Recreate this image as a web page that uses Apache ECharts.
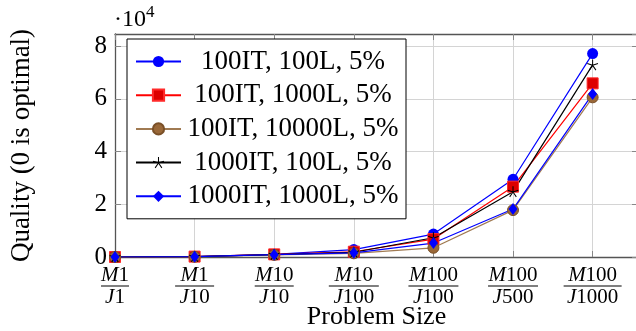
<!DOCTYPE html>
<html>
<head>
<meta charset="utf-8">
<script src="https://cdn.jsdelivr.net/npm/echarts@6/dist/echarts.min.js"></script>
<style>
  html, body { margin: 0; padding: 0; background: #fff; }
  #chart { width: 636px; height: 331px; }
</style>
</head>
<body>
<div id="chart"></div>
<script>
// Problem sizes: machines (numerator) over jobs (denominator)
const numerators   = ['M1', 'M1', 'M10', 'M10', 'M100', 'M100', 'M100'];
const denominators = ['J1', 'J10', 'J10', 'J100', 'J100', 'J500', 'J1000'];

// Quality per configuration (0 is optimal)
const q100it100l    = [0, 150, 1000, 2800, 8700, 29500, 77200];
const q100it1000l   = [0, 150, 1000, 2000, 6800, 26700, 65900];
const q100it10000l  = [0, 100, 800, 1400, 3500, 17800, 60600];
const q1000it100l   = [0, 150, 900, 1800, 7300, 24800, 72900];
const q1000it1000l  = [0, 120, 900, 1600, 5300, 18200, 61900];

const seriesNames = [
  '100IT, 100L, 5%',
  '100IT, 1000L, 5%',
  '100IT, 10000L, 5%',
  '1000IT, 100L, 5%',
  '1000IT, 1000L, 5%'
];

const yTicks = [0, 20000, 40000, 60000, 80000];

// five-spoke asterisk marker
function starPath() {
  const r = 5, t = 0.45;
  let d = '';
  for (let k = 0; k < 5; k++) {
    const a = (k * 72) * Math.PI / 180;
    const c = Math.cos(a), s = Math.sin(a);
    const pts = [[-t, 0], [-t, -r], [t, -r], [t, 0]].map(([x, y]) => [x * c - y * s, x * s + y * c]);
    d += 'M' + pts.map(p => p[0].toFixed(3) + ',' + p[1].toFixed(3)).join('L') + 'Z';
  }
  return 'path://' + d;
}

const serif = 'Liberation Serif';

function fracLabel(v) {
  if (Math.abs(v - Math.round(v)) > 1e-6) return '';
  const i = Math.round(v);
  if (i < 0 || i >= numerators.length) return '';
  const num = numerators[i], den = denominators[i];
  const split = s => '{i|' + s[0] + '}{n|' + s.slice(1) + '}';
  const len = Math.max(num.length, den.length);
  return split(num) + '\n{b' + len + '| }\n' + split(den);
}

const pts = vals => vals.map((v, i) => [i, v]);

const chart = echarts.init(document.getElementById('chart'), null, { renderer: 'canvas' });

const axisLineStyle = { color: '#555', width: 1.3 };
const tickStyle = { color: '#888', width: 1 };
const gridLine = { lineStyle: { color: '#d4d4d4', width: 1 } };

const option = {
  animation: false,
  backgroundColor: '#fff',
  textStyle: { fontFamily: serif },
  grid: { left: 115, top: 34, width: 523, height: 223, containLabel: false, outerBoundsMode: 'none' },
  graphic: [{
    type: 'text',
    left: 114,
    top: 4,
    style: {
      text: '{d|·10}{s|4}',
      rich: {
        d: { fontFamily: serif, fontSize: 24, fill: '#000', verticalAlign: 'bottom', lineHeight: 28 },
        s: { fontFamily: serif, fontSize: 17, fill: '#000', verticalAlign: 'top', padding: [0, 0, 10, 0] }
      }
    }
  }],
  xAxis: [{
    type: 'value',
    min: 0,
    max: 6.57,
    interval: 1,
    name: 'Problem Size',
    nameLocation: 'middle',
    nameGap: 47,
    nameMoveOverlap: false,
    nameTextStyle: { fontFamily: serif, fontSize: 26, color: '#000' },
    axisLine: { show: true, onZero: false, lineStyle: axisLineStyle },
    axisTick: { show: true, inside: true, length: 6, lineStyle: tickStyle },
    splitLine: { show: true, ...gridLine },
    axisLabel: {
      show: true,
      margin: 9,
      showMaxLabel: false,
      formatter: fracLabel,
      color: '#000',
      rich: {
        i: { fontFamily: serif, fontStyle: 'italic', fontSize: 21, lineHeight: 18, color: '#000' },
        n: { fontFamily: serif, fontSize: 21, lineHeight: 18, color: '#000' },
        b2: { width: 28, height: 1, lineHeight: 4, backgroundColor: '#000' },
        b3: { width: 39, height: 1, lineHeight: 4, backgroundColor: '#000' },
        b4: { width: 50, height: 1, lineHeight: 4, backgroundColor: '#000' },
        b5: { width: 58, height: 1, lineHeight: 4, backgroundColor: '#000' }
      }
    }
  }, {
    type: 'value',
    position: 'top',
    min: 0,
    max: 6.57,
    interval: 1,
    axisLine: { show: true, onZero: false, lineStyle: axisLineStyle },
    axisTick: { show: true, inside: true, length: 6, lineStyle: tickStyle },
    splitLine: { show: false },
    axisLabel: { show: false }
  }],
  yAxis: [{
    type: 'value',
    min: 0,
    max: 84630,
    interval: 20000,
    name: 'Quality (0 is optimal)',
    nameLocation: 'middle',
    nameGap: 80,
    nameMoveOverlap: false,
    nameTextStyle: { fontFamily: serif, fontSize: 27, color: '#000' },
    axisLine: { show: true, onZero: false, lineStyle: axisLineStyle },
    axisTick: { show: true, inside: true, length: 6, lineStyle: tickStyle },
    splitLine: { show: true, ...gridLine },
    axisLabel: {
      showMaxLabel: false,
      margin: 8,
      fontFamily: serif,
      fontSize: 25,
      color: '#000',
      formatter: v => (yTicks.indexOf(v) >= 0 ? String(v / 10000) : '')
    }
  }, {
    type: 'value',
    position: 'right',
    min: 0,
    max: 84630,
    interval: 20000,
    axisLine: { show: true, onZero: false, lineStyle: axisLineStyle },
    axisTick: { show: true, inside: true, length: 6, lineStyle: tickStyle },
    splitLine: { show: false },
    axisLabel: { show: false }
  }],
  legend: {
    orient: 'vertical',
    left: 127,
    top: 39,
    padding: [9, 6, 9, 8],
    itemGap: 6.7,
    itemWidth: 45,
    itemHeight: 14,
    backgroundColor: '#fff',
    borderColor: '#000',
    borderWidth: 1,
    borderRadius: 0,
    data: seriesNames,
    formatter: name => '{t|' + name + '}',
    textStyle: {
      fontFamily: serif,
      fontSize: 27,
      color: '#000',
      rich: { t: { fontFamily: serif, fontSize: 27, width: 214, align: 'center', lineHeight: 26 } }
    }
  },
  series: [{
    name: seriesNames[0],
    type: 'line',
    data: pts(q100it100l),
    symbol: 'circle',
    symbolSize: 11,
    lineStyle: { color: '#0000ff', width: 1.2 },
    itemStyle: { color: '#0000ff' }
  }, {
    name: seriesNames[1],
    type: 'line',
    data: pts(q100it1000l),
    symbol: 'rect',
    symbolSize: 11,
    lineStyle: { color: '#ff0000', width: 1.2 },
    itemStyle: { color: '#dd0000', borderColor: '#ff2a2a', borderWidth: 1 }
  }, {
    name: seriesNames[2],
    type: 'line',
    data: pts(q100it10000l),
    symbol: 'circle',
    symbolSize: 11,
    lineStyle: { color: '#a07a52', width: 1.2 },
    itemStyle: { color: '#9a6838', borderColor: '#7a5028', borderWidth: 1 }
  }, {
    name: seriesNames[3],
    type: 'line',
    data: pts(q1000it100l),
    symbol: starPath(),
    symbolSize: 11,
    lineStyle: { color: '#000', width: 1.2 },
    itemStyle: { color: '#000' }
  }, {
    name: seriesNames[4],
    type: 'line',
    data: pts(q1000it1000l),
    symbol: 'diamond',
    symbolSize: [9, 12],
    lineStyle: { color: '#0000ff', width: 1.2 },
    itemStyle: { color: '#0000ff' }
  }]
};

chart.setOption(option);
</script>
</body>
</html>
